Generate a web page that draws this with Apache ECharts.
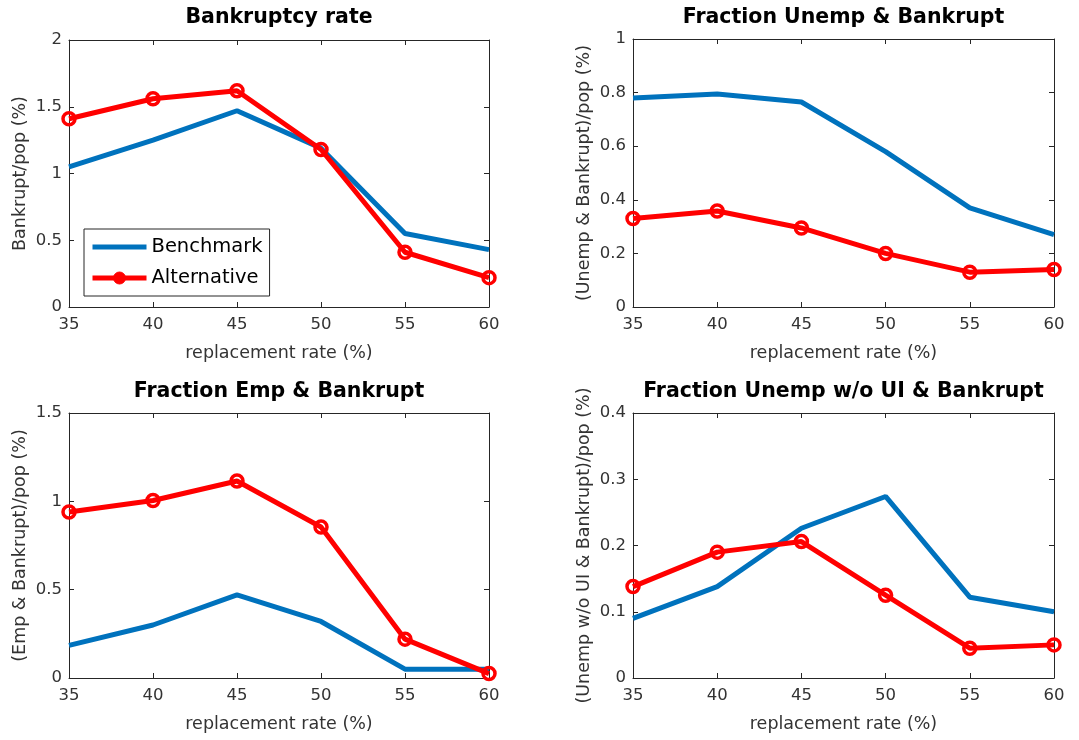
<!DOCTYPE html>
<html>
<head>
<meta charset="utf-8">
<script src="https://cdn.jsdelivr.net/npm/echarts@6/dist/echarts.min.js"></script>
<style>
  html, body { margin: 0; padding: 0; background: #fff; }
  #chart { width: 1079px; height: 740px; }
</style>
</head>
<body>
<div id="chart"></div>
<script>
// Replacement rate (%) on the horizontal axis of every panel
const replacementRate = [35, 40, 45, 50, 55, 60];

// Bankruptcy rate
const bankruptBenchmark   = [1.05, 1.25, 1.47, 1.19, 0.55, 0.43];
const bankruptAlternative = [1.41, 1.56, 1.62, 1.18, 0.41, 0.22];

// Fraction unemployed & bankrupt
const unempBenchmark   = [0.78, 0.795, 0.765, 0.58, 0.37, 0.27];
const unempAlternative = [0.33, 0.358, 0.295, 0.20, 0.13, 0.14];

// Fraction employed & bankrupt
const empBenchmark   = [0.185, 0.30, 0.47, 0.32, 0.05, 0.05];
const empAlternative = [0.94, 1.005, 1.115, 0.855, 0.22, 0.025];

// Fraction unemployed without UI & bankrupt
const noUIBenchmark   = [0.09, 0.138, 0.226, 0.274, 0.122, 0.10];
const noUIAlternative = [0.138, 0.19, 0.206, 0.125, 0.045, 0.05];

const panelTitles = [
  'Bankruptcy rate',
  'Fraction Unemp & Bankrupt',
  'Fraction Emp & Bankrupt',
  'Fraction Unemp w/o UI & Bankrupt'
];
const yNames = [
  'Bankrupt/pop (%)',
  '(Unemp & Bankrupt)/pop (%)',
  '(Emp & Bankrupt)/pop (%)',
  '(Unemp w/o UI & Bankrupt)/pop (%)'
];
const xName = 'replacement rate (%)';
const yRanges = [[0, 2, 0.5], [0, 1, 0.2], [0, 1.5, 0.5], [0, 0.4, 0.1]];
const panelData = [
  [bankruptBenchmark, bankruptAlternative],
  [unempBenchmark, unempAlternative],
  [empBenchmark, empAlternative],
  [noUIBenchmark, noUIAlternative]
];
const seriesNames = ['Benchmark', 'Alternative'];

const FONT = 'DejaVu Sans';
const AXIS_COLOR = '#262626';
const LABEL_COLOR = '#333333';
const BLUE = '#0072BD';
const RED = '#FF0000';

const grids = [
  { left: 69,  top: 40,  width: 420, height: 267 },
  { left: 633, top: 39,  width: 421, height: 268 },
  { left: 69,  top: 413, width: 420, height: 265 },
  { left: 633, top: 413, width: 421, height: 265 }
];

const toPoints = arr => replacementRate.map((x, i) => [x, arr[i]]);

const xAxes = [], yAxes = [], series = [], titles = [];

grids.forEach((g, i) => {
  const [ymin, ymax, yint] = yRanges[i];
  const common = {
    gridIndex: i,
    axisLine: { show: true, onZero: false, lineStyle: { color: AXIS_COLOR, width: 1 } },
    axisTick: { show: true, inside: true, length: 5, lineStyle: { color: AXIS_COLOR } },
    splitLine: { show: false }
  };
  // bottom axis with labels
  xAxes.push(Object.assign({}, common, {
    type: 'value', position: 'bottom', min: 35, max: 60, interval: 5,
    name: xName, nameLocation: 'middle', nameGap: 37,
    nameTextStyle: { fontFamily: FONT, fontSize: 17.5, color: LABEL_COLOR },
    axisLabel: { fontFamily: FONT, fontSize: 16.5, color: LABEL_COLOR, margin: 9 }
  }));
  // top axis: box edge with ticks only
  xAxes.push(Object.assign({}, common, {
    type: 'value', position: 'top', min: 35, max: 60, interval: 5,
    axisLabel: { show: false }
  }));
  // left axis with labels
  yAxes.push(Object.assign({}, common, {
    type: 'value', position: 'left', min: ymin, max: ymax, interval: yint,
    name: yNames[i], nameLocation: 'middle', nameGap: 40, nameRotate: 90,
    nameTextStyle: { fontFamily: FONT, fontSize: 17.5, color: LABEL_COLOR },
    axisLabel: { fontFamily: FONT, fontSize: 16.5, color: LABEL_COLOR, margin: 7 }
  }));
  // right axis: box edge with ticks only
  yAxes.push(Object.assign({}, common, {
    type: 'value', position: 'right', min: ymin, max: ymax, interval: yint,
    axisLabel: { show: false }
  }));

  series.push({
    name: seriesNames[0], type: 'line',
    xAxisIndex: 2 * i, yAxisIndex: 2 * i,
    data: toPoints(panelData[i][0]),
    symbol: 'none',
    lineStyle: { color: BLUE, width: 5 },
    itemStyle: { color: BLUE },
    z: 2, animation: false
  });
  series.push({
    name: seriesNames[1], type: 'line',
    xAxisIndex: 2 * i, yAxisIndex: 2 * i,
    data: toPoints(panelData[i][1]),
    symbol: 'circle', symbolSize: 12, showSymbol: true,
    lineStyle: { color: RED, width: 5 },
    itemStyle: { color: 'rgba(255,255,255,0)', borderColor: RED, borderWidth: 3.5 },
    z: 3, animation: false
  });

  titles.push({
    text: panelTitles[i],
    left: g.left + g.width / 2,
    top: i < 2 ? 7 : 381,
    textAlign: 'center',
    padding: 0,
    textStyle: { fontFamily: FONT, fontSize: 20.5, fontWeight: 'bold', color: '#000' }
  });
});

const chart = echarts.init(document.getElementById('chart'), null, { renderer: 'canvas' });
chart.setOption({
  backgroundColor: '#fff',
  animation: false,
  title: titles,
  grid: grids.map(g => Object.assign({ containLabel: false }, g)),
  xAxis: xAxes,
  yAxis: yAxes,
  legend: {
    data: [
      {
        name: 'Benchmark',
        lineStyle: { color: BLUE, width: 5 },
        itemStyle: { color: 'rgba(0,0,0,0)', borderWidth: 0, opacity: 0 }
      },
      {
        name: 'Alternative',
        lineStyle: { color: RED, width: 5 },
        itemStyle: { color: RED, borderColor: RED, borderWidth: 1 }
      }
    ],
    orient: 'vertical',
    left: 84, top: 229,
    itemWidth: 54, itemHeight: 15, itemGap: 11,
    padding: [8, 7, 8, 6],
    borderColor: '#262626', borderWidth: 1,
    backgroundColor: '#fff',
    textStyle: { fontFamily: FONT, fontSize: 19.5, color: '#000' }
  },
  series: series
});
</script>
</body>
</html>
